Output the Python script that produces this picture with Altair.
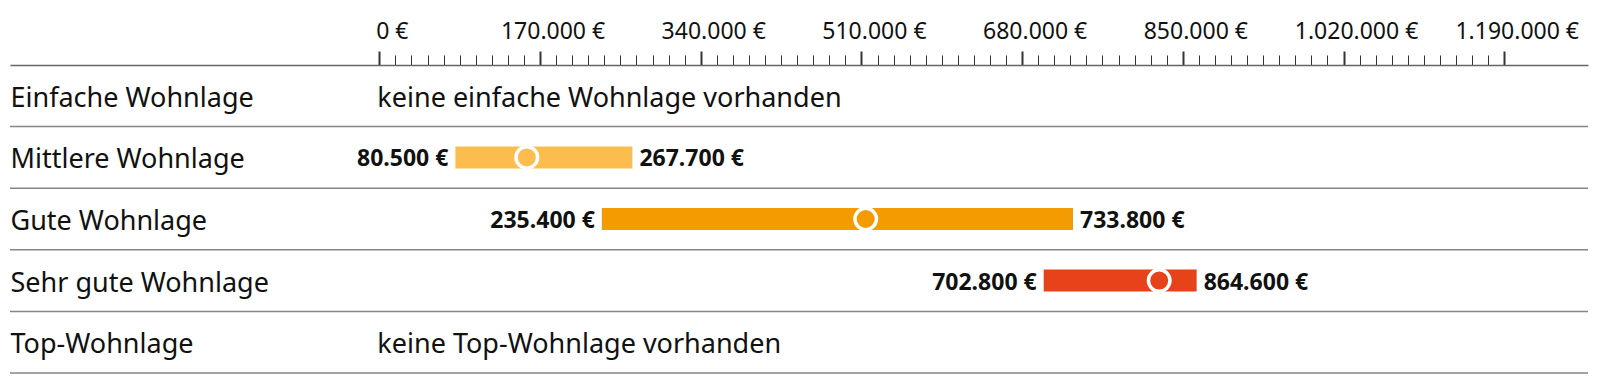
import altair as alt
import pandas as pd

categories = ["Einfache Wohnlage", "Mittlere Wohnlage", "Gute Wohnlage",
              "Sehr gute Wohnlage", "Top-Wohnlage"]
range_categories = ["Mittlere Wohnlage", "Gute Wohnlage", "Sehr gute Wohnlage"]
low_values = [80500, 235400, 702800]
high_values = [267700, 733800, 864600]
median_values = [156000, 514500, 825000]
bar_colors = ["#FCBD4E", "#F39B00", "#E6431A"]

note_categories = ["Einfache Wohnlage", "Top-Wohnlage"]
note_texts = ["keine einfache Wohnlage vorhanden", "keine Top-Wohnlage vorhanden"]
note_start = [0, 0]

major_ticks = [0, 170000, 340000, 510000, 680000, 850000, 1020000, 1190000]
minor_step = 17000
tick_values = list(range(0, 1190001, minor_step))

FONT = "Noto Sans"
FS = 23
FS_ROW = 27


def eur(v):
    return f"{v:,}".replace(",", ".") + " €"


df = pd.DataFrame({
    "category": range_categories,
    "low": low_values,
    "high": high_values,
    "median": median_values,
    "color": bar_colors,
    "low_label": [eur(v) for v in low_values],
    "high_label": [eur(v) for v in high_values],
})
notes = pd.DataFrame({"category": note_categories, "note": note_texts, "start": note_start})
rows = pd.DataFrame({"category": categories})

x_scale = alt.Scale(domain=[-390700, 1278600], nice=False, zero=False)
is_major = "datum.value % 170000 === 0"
x_axis = alt.Axis(
    orient="top", title=None, values=tick_values, grid=False,
    labelExpr=f"{is_major} ? replace(format(datum.value, ','), regexp(',', 'g'), '.') + ' €' : ''",
    labelOverlap=False, labelFlush=False, labelOffset=12.5,
    labelFont=FONT, labelFontSize=FS, labelColor="#111111",
    labelBaseline="alphabetic", labelPadding=12.7,
    tickSize={"condition": {"test": is_major, "value": 14}, "value": 10},
    tickWidth={"condition": {"test": is_major, "value": 2}, "value": 1},
    tickColor="#333333", domainColor="#666666", domainWidth=1.5,
)
y_scale = alt.Scale(domain=categories, paddingInner=0, paddingOuter=0)
y_axis = alt.Axis(
    orient="left", title=None, labelAlign="left", labelBaseline="middle",
    labelPadding=0, ticks=False, tickSize=0, domain=False, grid=False,
    labelFont=FONT, labelFontSize=FS_ROW, labelColor="#111111",
    labelLimit=400, labelOffset=3,
)

Y = alt.Y("category:N", sort=categories, scale=y_scale, axis=y_axis)

separators = alt.Chart(rows).mark_rule(color="#858585", strokeWidth=1.5).encode(
    y=alt.Y("category:N", sort=categories, scale=y_scale, axis=y_axis, bandPosition=1),
)
bars = alt.Chart(df).mark_bar(height=22).encode(
    x=alt.X("low:Q", scale=x_scale, axis=x_axis),
    x2="high:Q",
    y=Y,
    color=alt.Color("color:N", scale=None),
)
dots = alt.Chart(df).mark_circle(size=462, stroke="white", strokeWidth=3.5, opacity=1).encode(
    x=alt.X("median:Q", scale=x_scale, axis=x_axis),
    y=Y,
    color=alt.Color("color:N", scale=None),
)
low_text = alt.Chart(df).mark_text(
    align="right", baseline="middle", dx=-7, dy=2, font=FONT, fontSize=FS,
    fontWeight="bold", color="#111111"
).encode(
    x=alt.X("low:Q", scale=x_scale, axis=x_axis), y=Y, text="low_label:N"
)
high_text = alt.Chart(df).mark_text(
    align="left", baseline="middle", dx=7, dy=2, font=FONT, fontSize=FS,
    fontWeight="bold", color="#111111"
).encode(
    x=alt.X("high:Q", scale=x_scale, axis=x_axis), y=Y, text="high_label:N"
)
note_text = alt.Chart(notes).mark_text(
    align="left", baseline="middle", dx=-2, dy=3, font=FONT, fontSize=FS_ROW,
    color="#111111"
).encode(
    x=alt.X("start:Q", scale=x_scale, axis=x_axis), y=Y, text="note:N"
)

chart = alt.layer(separators, bars, dots, low_text, high_text, note_text).properties(
    width=1578, height=308,
    autosize=alt.AutoSizeParams(type="none"),
    padding={"left": 2, "top": 57, "right": 4, "bottom": 5},
).configure_view(stroke=None)

chart.save("out.html", embed_options={"renderer": "svg", "actions": False})
